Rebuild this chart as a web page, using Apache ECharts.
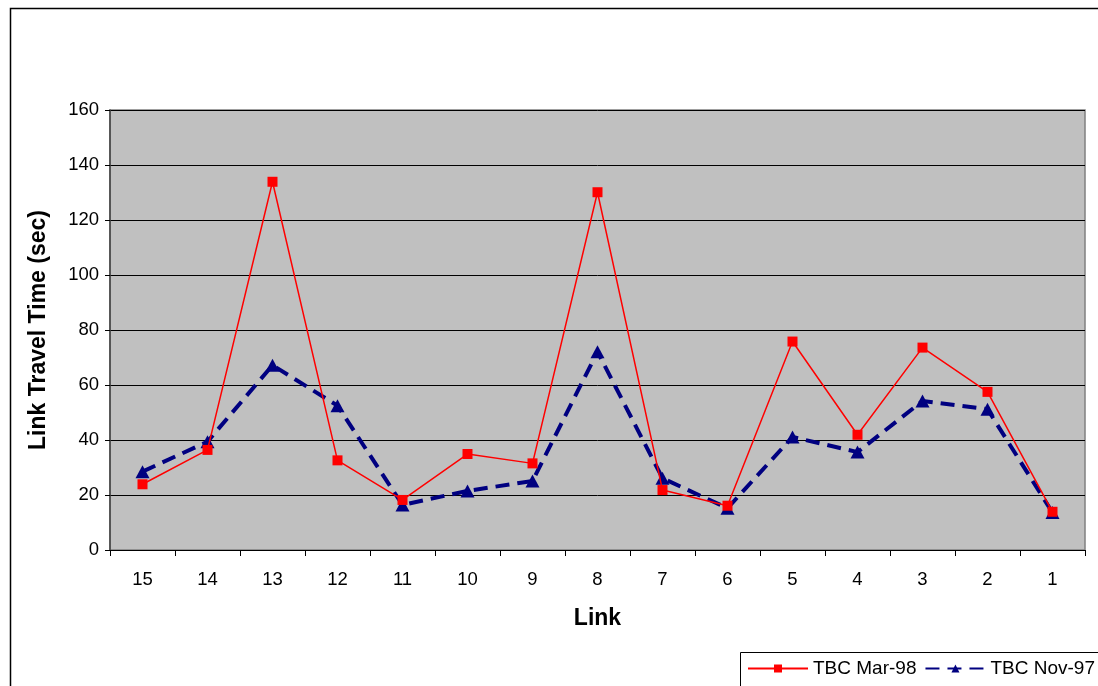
<!DOCTYPE html>
<html><head><meta charset="utf-8">
<script src="https://cdn.jsdelivr.net/npm/echarts@6/dist/echarts.min.js"></script>
<style>html,body{margin:0;padding:0;background:#fff}#c{width:1098px;height:686px}</style>
</head><body><div id="c"></div>
<script>
const categories = ['15','14','13','12','11','10','9','8','7','6','5','4','3','2','1'];
const mar98 = [23.9, 36.4, 133.9, 32.6, 18.2, 34.9, 31.5, 130.1, 21.8, 16.1, 75.8, 41.9, 73.6, 57.5, 13.9];
const nov97 = [28.5, 39.4, 67.2, 52.5, 16.4, 21.5, 25.1, 72.1, 26.1, 15.2, 41.1, 35.6, 54.2, 51.2, 13.6];
const yTicks = {min: 0, max: 160, interval: 20};
const seriesNames = ['TBC Mar-98', 'TBC Nov-97'];

const chart = echarts.init(document.getElementById('c'), null, {renderer: 'canvas'});
const font = 'Arial, "Liberation Sans", sans-serif';
chart.setOption({
  animation: false,
  backgroundColor: '#ffffff',
  textStyle: {fontFamily: font},
  graphic: [
    {type: 'rect', shape: {x: 10.5, y: 8.5, width: 1100, height: 700}, style: {fill: 'none', stroke: '#000', lineWidth: 1.5}, z: -1},
    {type: 'rect', shape: {x: 740.5, y: 652.5, width: 400, height: 60}, style: {fill: '#fff', stroke: '#000', lineWidth: 1}, z: 0}
  ],
  grid: {left: 110, top: 110, width: 975, height: 440, show: true, backgroundColor: '#c0c0c0', borderColor: '#808080', borderWidth: 1.5},
  legend: {
    data: seriesNames, left: 747, top: 659, width: 400, padding: 0, itemWidth: 60, itemHeight: 10, itemGap: 8,
    textStyle: {fontSize: 19, color: '#000', fontFamily: font}, z: 5
  },
  xAxis: {
    type: 'category', data: categories, boundaryGap: true,
    name: 'Link', nameLocation: 'middle', nameGap: 57,
    nameTextStyle: {fontSize: 23, fontWeight: 'bold', color: '#000', fontFamily: font},
    axisLine: {lineStyle: {color: '#000', width: 1}},
    axisTick: {show: true, length: 6, interval: 0, lineStyle: {color: '#000'}},
    axisLabel: {fontSize: 18.5, color: '#000', margin: 20, interval: 0, fontFamily: font},
    splitLine: {show: false}
  },
  yAxis: {
    type: 'value', min: yTicks.min, max: yTicks.max, interval: yTicks.interval,
    name: 'Link Travel Time (sec)', nameLocation: 'middle', nameGap: 60,
    nameTextStyle: {fontSize: 23, fontWeight: 'bold', color: '#000', fontFamily: font},
    axisLine: {show: true, lineStyle: {color: '#404040', width: 1.5}},
    axisTick: {show: true, length: 5, lineStyle: {color: '#000'}},
    axisLabel: {fontSize: 18.5, color: '#000', margin: 11, fontFamily: font},
    splitLine: {show: true, lineStyle: {color: '#000', width: 1}}
  },
  series: [
    {name: seriesNames[0], type: 'line', data: mar98, symbol: 'rect', symbolSize: 10,
     lineStyle: {color: '#ff0000', width: 1.5}, itemStyle: {color: '#ff0000'}, z: 3},
    {name: seriesNames[1], type: 'line', data: nov97, symbol: 'triangle', symbolSize: [14, 13],
     lineStyle: {color: '#000080', width: 4, type: [14, 8]}, itemStyle: {color: '#000080'}, z: 2}
  ]
});
</script></body></html>
